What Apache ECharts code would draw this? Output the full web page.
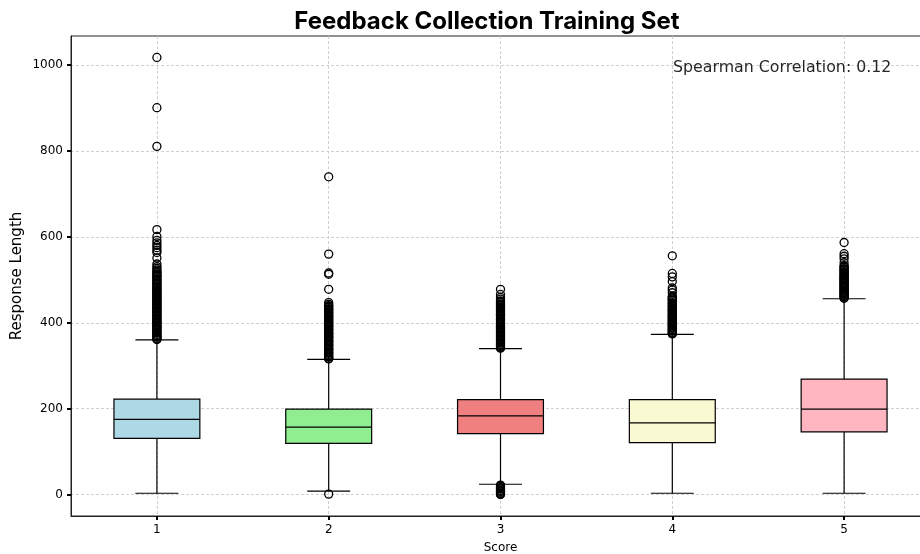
<!DOCTYPE html>
<html>
<head>
<meta charset="utf-8">
<script src="https://cdn.jsdelivr.net/npm/echarts@6/dist/echarts.min.js"></script>
<style>html,body{margin:0;padding:0;background:#fff}#c{width:920px;height:554px}</style>
</head>
<body>
<div id="c"></div>
<script>
// ---- data ----
var categories = ['1', '2', '3', '4', '5'];
var colors = ['#ADD8E6', '#90EE90', '#F08080', '#FAFAD2', '#FFB6C1'];
// [lower whisker, Q1, median, Q3, upper whisker]
var boxStats = [
  [3, 131, 175, 222, 360],
  [8, 119, 157, 199, 315],
  [24, 142, 183, 221, 340],
  [3, 121, 167, 221, 373],
  [3, 146, 199, 269, 456]
];
var outliers1 = [1018, 901, 811, 617, 601, 592, 586, 580, 575, 569, 564, 551, 537, 531, 527, 523, 519, 517, 514, 511, 509, 507, 503, 501, 499, 496, 493, 491, 489, 486, 483, 481, 480, 476, 474, 473, 470, 467, 465, 463, 460, 458, 457, 454, 451, 449, 447, 444, 442, 441, 438, 435, 433, 432, 428, 426, 425, 422, 419, 417, 416, 413, 410, 408, 406, 403, 401, 400, 397, 394, 392, 391, 388, 386, 385, 382, 379, 377, 376, 373, 370, 368, 367, 364, 362, 361];
var outliers2 = [740, 560, 516, 513, 478, 447, 443, 440, 438, 436, 433, 431, 430, 426, 424, 423, 420, 417, 415, 414, 411, 409, 407, 404, 402, 401, 398, 395, 393, 392, 389, 386, 384, 383, 380, 377, 375, 374, 371, 368, 366, 365, 362, 359, 357, 356, 353, 350, 348, 347, 344, 341, 339, 338, 335, 332, 330, 329, 326, 323, 321, 320, 317, 316, 1];
var outliers3 = [478, 466, 459, 455, 451, 449, 447, 444, 442, 440, 437, 435, 433, 430, 428, 427, 423, 421, 420, 417, 415, 414, 410, 408, 407, 404, 402, 401, 398, 396, 395, 392, 390, 389, 386, 384, 383, 380, 378, 377, 374, 372, 371, 368, 366, 365, 362, 360, 359, 356, 354, 353, 350, 348, 347, 344, 342, 341, 22, 20, 19, 16, 14, 13, 10, 8, 7, 4, 2, 1, 0];
var outliers4 = [556, 515, 507, 496, 481, 476, 470, 462, 460, 458, 455, 453, 451, 447, 445, 444, 440, 438, 437, 433, 431, 430, 427, 425, 423, 420, 418, 417, 414, 412, 411, 408, 406, 405, 402, 400, 399, 396, 394, 393, 390, 388, 387, 384, 382, 381, 378, 376, 375, 374];
var outliers5 = [587, 561, 555, 549, 540, 533, 531, 529, 526, 524, 522, 519, 517, 516, 512, 510, 509, 506, 504, 503, 500, 498, 497, 494, 492, 491, 488, 486, 485, 482, 480, 479, 476, 474, 473, 470, 468, 467, 464, 462, 461, 458, 457];
var yTicks = [0, 200, 400, 600, 800, 1000];
var titleText = 'Feedback Collection Training Set';
var yName = 'Response Length';
var annotation = 'Spearman Correlation: 0.12';

var allOutliers = [outliers1, outliers2, outliers3, outliers4, outliers5];
var boxData = boxStats.map(function (s, i) { return [i + 1].concat(s); });
var outlierData = [];
allOutliers.forEach(function (arr, i) { arr.forEach(function (v) { outlierData.push([i + 1, v]); }); });
var catPos = categories.map(function (c, i) { return i + 1; });

var chart = echarts.init(document.getElementById('c'), null, { renderer: 'canvas' });
var tickFont = 'DejaVu Sans';
chart.setOption({
  animation: false,
  backgroundColor: '#fff',
  grid: { left: 71, top: 36, right: -10, bottom: 38, show: true, borderColor: '#222', borderWidth: 1,
    containLabel: false, outerBoundsMode: 'none' },
  xAxis: {
    type: 'value', min: 0.5, max: 5.5,
    name: 'Score', nameLocation: 'middle', nameGap: 26,
    nameTextStyle: { fontFamily: tickFont, fontSize: 12, color: '#000' },
    axisLine: { show: true, onZero: false, lineStyle: { color: '#222', width: 1 } },
    axisTick: { show: true, inside: false, length: 4, lineStyle: { color: '#000', width: 2 }, customValues: catPos },
    axisLabel: { customValues: catPos, margin: 8, fontFamily: tickFont, fontSize: 12, color: '#000',
      formatter: function (v) { return categories[Math.round(v) - 1] || ''; } },
    splitLine: { show: true, lineStyle: { color: '#c4c4c4', type: [3, 2], width: 0.8 } }
  },
  yAxis: {
    type: 'value', min: -50, max: 1068,
    axisLine: { show: true, onZero: false, lineStyle: { color: '#222', width: 1 } },
    axisTick: { show: true, inside: false, length: 4, lineStyle: { color: '#000', width: 2 }, customValues: yTicks },
    axisLabel: { customValues: yTicks, margin: 8, fontFamily: tickFont, fontSize: 12, color: '#000',
      formatter: function (v) { return String(v); } },
    splitLine: { show: true, lineStyle: { color: '#c4c4c4', type: [3, 2], width: 0.8 } }
  },
  graphic: [{
    type: 'text', x: 487, y: 22, z: 100,
    style: { text: titleText, font: 'bold 24px Inter', fill: '#000', align: 'center', verticalAlign: 'middle' }
  }, {
    type: 'text', x: 17, y: 276, rotation: Math.PI / 2, z: 100,
    style: { text: yName, font: '15px "DejaVu Sans"', fill: '#000', align: 'center', verticalAlign: 'middle' }
  }, {
    type: 'text', x: 673, y: 68, z: 100,
    style: { text: annotation, font: '15.8px "DejaVu Sans"', fill: '#262626', align: 'left', verticalAlign: 'middle' }
  }],
  series: [{
    type: 'custom',
    data: boxData,
    z: 3,
    renderItem: function (params, api) {
      var x = api.value(0);
      var lo = api.coord([x, api.value(1)]);
      var q1 = api.coord([x, api.value(2)]);
      var md = api.coord([x, api.value(3)]);
      var q3 = api.coord([x, api.value(4)]);
      var hi = api.coord([x, api.value(5)]);
      var bw = api.size([1, 0])[0] * 0.5;
      var cw = bw * 0.5;
      var cx = lo[0];
      var ls = { stroke: '#000', lineWidth: 1.2 };
      return {
        type: 'group',
        children: [
          { type: 'line', shape: { x1: cx, y1: lo[1], x2: cx, y2: q1[1] }, style: ls },
          { type: 'line', shape: { x1: cx, y1: q3[1], x2: cx, y2: hi[1] }, style: ls },
          { type: 'line', shape: { x1: cx - cw / 2, y1: lo[1], x2: cx + cw / 2, y2: lo[1] }, style: ls },
          { type: 'line', shape: { x1: cx - cw / 2, y1: hi[1], x2: cx + cw / 2, y2: hi[1] }, style: ls },
          { type: 'rect', shape: { x: cx - bw / 2, y: q3[1], width: bw, height: q1[1] - q3[1] },
            style: { fill: colors[params.dataIndex], stroke: '#000', lineWidth: 1.2 } },
          { type: 'line', shape: { x1: cx - bw / 2, y1: md[1], x2: cx + bw / 2, y2: md[1] }, style: ls }
        ]
      };
    }
  }, {
    type: 'scatter',
    data: outlierData,
    z: 4,
    symbol: 'circle',
    symbolSize: 8,
    itemStyle: { color: 'rgba(0,0,0,0)', borderColor: '#000', borderWidth: 1.3, opacity: 1 },
    emphasis: { disabled: true }
  }]
});
</script>
</body>
</html>
